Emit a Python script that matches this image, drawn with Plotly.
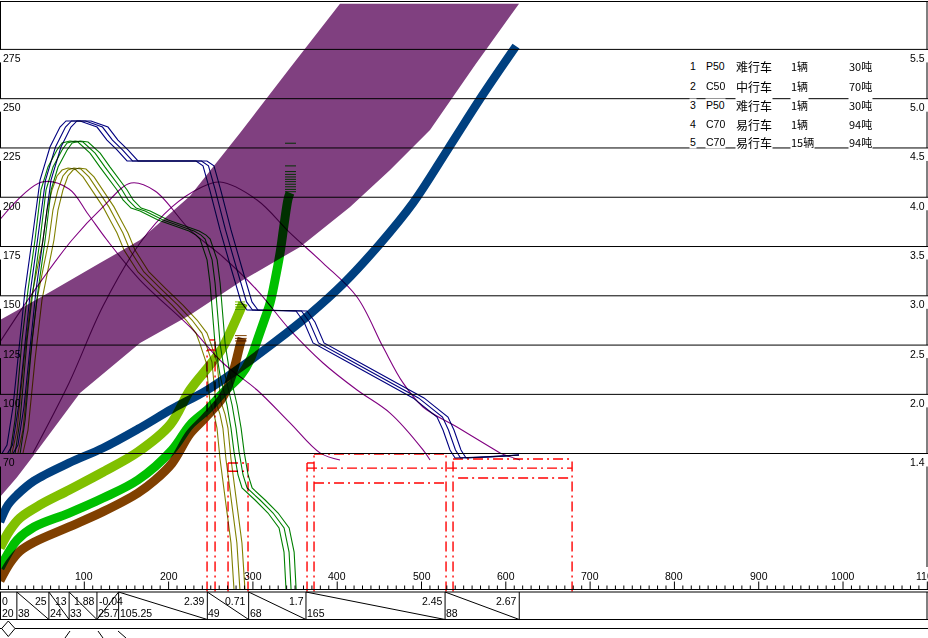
import numpy as np
import plotly.graph_objects as go

# ---------------- values ----------------
GRID_SPEEDS = [70, 100, 125, 150, 175, 200, 225, 250, 275]   # left axis (km/h)
RIGHT_RATIO = 50                                               # right axis = speed / 50
X_TICKS = [100, 200, 300, 400, 500, 600, 700, 800, 900, 1000, 1100]
X_MINOR = 10

GRADIENTS = [0, 25, 13, 1.88, -0.04, 2.39, 0.71, 1.7, 2.45, 2.67]
SEG_LENGTHS = [20, 38, 24, 33, 25.7, 105.25, 49, 68, 165, 88]

LEGEND_NO = ["1", "2", "3", "4", "5"]
LEGEND_TYPE = ["P50", "C50", "P50", "C70", "C70"]
LEGEND_CLASS = ["难行车", "中行车", "难行车", "易行车", "易行车"]
LEGEND_COUNT = ["1辆", "1辆", "1辆", "1辆", "15辆"]
LEGEND_WEIGHT = ["30吨", "70吨", "30吨", "94吨", "94吨"]

# purple band
BAND_UP_X = [0, 59.3, 118.6, 166.1, 225.4, 284.7, 344.0, 403.3]
BAND_UP_V = [137.7, 151.9, 166.6, 178.3, 200.6, 232.6, 265.6, 298.2]
BAND_LO_X = [0, 20.2, 40.3, 94.9, 166.1, 225.4, 288.3, 355.9, 415.2, 462.7, 510.1, 563.5, 615.7]
BAND_LO_V = [47.9, 58.0, 69.2, 100.7, 126.1, 140.3, 158.0, 174.8, 195.1, 213.8, 234.1, 267.1, 298.2]

# thick curves
BLUE_X = [0, 9.5, 20.2, 40.3, 81.9, 122.2, 163.7, 204.0, 245.6, 285.9, 326.2, 367.8, 408.1, 449.6, 489.9, 531.5, 571.8, 612.1]
BLUE_V = [35.3, 43.9, 49.0, 56.1, 65.2, 72.8, 82.4, 92.6, 102.2, 113.9, 126.6, 140.8, 156.5, 175.8, 197.1, 224.5, 251.4, 276.7]
LIME_X = [0, 11.9, 23.7, 47.5, 81.9, 122.2, 163.7, 201.7, 225.4, 249.1, 264.5, 281.2, 288.3]
LIME_V = [22.1, 31.2, 37.3, 43.9, 51.5, 60.6, 70.8, 84.5, 102.2, 114.9, 124.0, 139.2, 146.3]
GREEN_X = [0, 11.9, 20.2, 40.3, 81.9, 122.2, 163.7, 204.0, 225.4, 245.6, 264.5, 285.9, 296.6, 306.1, 314.4, 320.3, 326.2, 332.2, 336.9, 341.7, 344.0]
GREEN_V = [11.9, 21.0, 26.1, 32.7, 39.8, 47.4, 56.6, 71.8, 84.5, 92.1, 100.7, 109.8, 117.4, 128.6, 138.7, 146.3, 158.0, 171.7, 185.9, 199.1, 202.2]
BROWN_X = [0, 11.9, 23.7, 40.3, 81.9, 122.2, 163.7, 183.9, 204.0, 225.4, 243.2, 264.5, 276.4, 284.7, 287.1]
BROWN_V = [5.5, 14.5, 20.5, 25.0, 32.8, 40.5, 50.0, 56.5, 65.0, 80.0, 88.0, 98.7, 111.3, 125.0, 128.6]

# end stripes of thick curves
LIME_STRIPE_X = [278.8, 290.6]
LIME_STRIPE_V = [146.9, 145.6, 144.3, 143.1]
BROWN_STRIPE_X = [278.8, 292.6]
BROWN_STRIPE_V = [129.8, 128.4, 127.1]
GREEN_STRIPE_X = [338.1, 351.1]
GREEN_STRIPE_V = [227.4, 215.9, 213.0, 211.6, 210.3, 209.1, 207.9, 206.6, 205.3, 204.0, 202.8]

# thin navy runs
NAVY_V = [70.0, 74.3, 93.6, 127.6, 152.9, 178.3, 208.7, 225.5, 235.6, 238.7, 238.7, 235.6, 229.0, 224.0, 218.4,
          218.4, 215.9, 203.2, 183.4, 164.1, 146.9, 142.8, 142.3, 136.7, 126.1, 117.4, 107.8, 98.2, 88.5, 81.9,
          71.8, 67.7, 68.2, 69.2]
NAVY_1_X = [2.4, 8.3, 15.4, 23.7, 29.7, 38.0, 47.5, 59.3, 71.2, 78.3, 94.9, 115.1, 126.9, 138.8, 150.7, 232.5,
            240.8, 249.1, 261.0, 274.0, 285.9, 293.0, 351.1, 360.6, 371.3, 408.1, 449.6, 489.9, 518.4, 525.5,
            533.8, 539.8, 569.4, 615.7]
NAVY_2_X = [8.9, 14.8, 21.9, 30.2, 36.2, 44.5, 54.0, 65.8, 77.7, 84.8, 101.4, 121.6, 133.4, 145.3, 157.2, 239.0,
            247.3, 255.6, 267.5, 280.5, 292.4, 299.5, 357.6, 367.1, 377.8, 414.6, 456.1, 496.4, 524.9, 532.0,
            540.3, 546.3, 575.9, 615.7]
NAVY_3_X = [15.4, 21.3, 28.4, 36.7, 42.7, 51.0, 60.5, 72.3, 84.2, 91.3, 107.9, 128.1, 139.9, 151.8, 163.7, 245.5,
            253.8, 262.1, 274.0, 287.0, 298.9, 306.0, 364.1, 373.6, 384.3, 421.1, 462.6, 502.9, 531.4, 538.5,
            546.8, 552.8, 582.4, 615.7]

# thin green runs
GTHIN_V = [70.0, 87.0, 127.6, 152.9, 178.3, 203.7, 215.3, 224.0, 227.5, 228.5, 228.0, 222.4, 215.3, 208.7, 203.7,
           198.6, 194.5, 193.0, 188.5, 182.9, 180.8, 178.8, 168.2, 156.5, 137.7, 125.5, 109.8, 94.6, 82.9, 70.8,
           59.1, 52.5, 46.4, 39.8, 32.2, 20.0, 0.8]
GTHIN_1_X = [11.9, 17.8, 26.1, 33.2, 41.5, 48.6, 56.9, 67.6, 73.6, 83.0, 92.5, 106.8, 118.6, 130.5, 138.8, 145.9,
             155.4, 166.1, 187.4, 224.2, 232.5, 237.3, 245.6, 249.1, 252.7, 255.1, 261.0, 269.3, 274.0, 277.6,
             282.3, 287.1, 302.5, 317.9, 331.0, 336.9, 339.3]
GTHIN_2_X = [17.9, 23.8, 32.1, 39.2, 47.5, 54.6, 62.9, 73.6, 79.6, 89.0, 98.5, 112.8, 124.6, 136.5, 144.8, 151.9,
             161.4, 172.1, 193.4, 230.2, 238.5, 243.3, 251.6, 255.1, 258.7, 261.1, 267.0, 275.3, 280.0, 283.6,
             288.3, 293.1, 308.5, 323.9, 337.0, 342.9, 345.3]
GTHIN_3_X = [23.9, 29.8, 38.1, 45.2, 53.5, 60.6, 68.9, 79.6, 85.6, 95.0, 104.5, 118.8, 130.6, 142.5, 150.8, 157.9,
             167.4, 178.1, 199.4, 236.2, 244.5, 249.3, 257.6, 261.1, 264.7, 267.1, 273.0, 281.3, 286.0, 289.6,
             294.3, 299.1, 314.5, 329.9, 343.0, 348.9, 351.3]

# thin olive runs
OLIVE_V = [70.0, 81.9, 117.4, 147.9, 163.1, 178.3, 193.5, 203.7, 210.8, 213.8, 214.8, 214.3, 210.3, 205.2, 200.1,
           195.1, 188.5, 181.9, 173.2, 168.2, 162.1, 153.5, 145.3, 137.7, 131.1, 125.5, 116.4, 105.8, 96.1, 90.0,
           82.9, 67.2, 51.5, 38.3, 24.6, 0.8]
OLIVE_1_X = [14.2, 20.2, 28.5, 36.8, 43.9, 51.0, 55.8, 61.7, 67.6, 73.6, 80.7, 89.0, 98.5, 106.8, 115.1, 122.2,
             130.5, 138.8, 147.1, 154.2, 163.7, 183.9, 204.0, 220.7, 232.5, 237.3, 244.4, 246.8, 249.1, 253.9,
             257.4, 261.0, 265.7, 269.3, 274.0, 277.6]
OLIVE_2_X = [21.2, 27.2, 35.5, 43.8, 50.9, 58.0, 62.8, 68.7, 74.6, 80.6, 87.7, 96.0, 105.5, 113.8, 122.1, 129.2,
             137.5, 145.8, 154.1, 161.2, 170.7, 190.9, 211.0, 227.7, 239.5, 244.3, 251.4, 253.8, 256.1, 260.9,
             264.4, 268.0, 272.7, 276.3, 281.0, 284.6]
OLIVE_3_X = [27.2, 33.2, 41.5, 49.8, 56.9, 64.0, 68.8, 74.7, 80.6, 86.6, 93.7, 102.0, 111.5, 119.8, 128.1, 135.2,
             143.5, 151.8, 160.1, 167.2, 176.7, 196.9, 217.0, 233.7, 245.5, 250.3, 257.4, 259.8, 262.1, 266.9,
             270.4, 274.0, 278.7, 282.3, 287.0, 290.6]

# thin purple curves
PURPLE_A_X = [0, 49.8, 81.9, 104.4, 126.9, 166.1, 225.4, 264.5, 304.9, 344.0, 379.6, 403.3]
PURPLE_A_V = [188.7, 207.7, 204.2, 191.5, 178.3, 158.0, 134.2, 115.9, 102.2, 85.5, 70.3, 66.7]
PURPLE_B_X = [0, 40.3, 85.4, 122.2, 155.4, 183.9, 225.4, 264.5, 304.9, 344.0, 383.2, 423.5, 462.7, 501.8, 510.1]
PURPLE_B_V = [126.6, 152.4, 178.3, 195.1, 207.2, 203.2, 183.4, 169.7, 152.9, 132.7, 115.9, 102.2, 90.5, 71.8, 66.7]
PURPLE_C_X = [39.1, 81.9, 122.2, 166.1, 204.0, 237.3, 261.0, 304.9, 344.0, 383.2, 423.5, 454.4, 478.1, 501.8,
              542.1, 581.3, 593.2, 616.9]
PURPLE_C_V = [70.3, 105.8, 144.8, 176.8, 195.1, 204.7, 207.7, 198.6, 181.9, 166.6, 149.4, 124.0, 105.8, 93.6,
              83.4, 73.3, 70.3, 66.7]

# red dash-dot limit lines: (x0, x1, v0, v1)
RED_SEGMENTS = [
    (245.6, 245.6, 0, 122.5), (255.1, 255.1, 0, 127.6), (245.6, 255.1, 122.5, 122.5), (249.0, 255.1, 127.6, 127.6),
    (270.5, 270.5, 0, 65.2), (294.2, 294.2, 0, 65.2), (270.5, 294.2, 65.2, 65.2), (270.5, 294.2, 61.0, 61.0),
    (364.2, 364.2, 0, 65.2), (372.5, 372.5, 0, 69.7), (364.2, 372.5, 65.2, 65.2),
    (372.5, 529.1, 69.7, 69.7), (364.2, 678.6, 62.6, 62.6), (372.5, 531.5, 55.0, 55.0),
    (529.1, 529.1, 0, 69.7), (537.4, 537.4, 0, 67.2), (537.4, 678.6, 67.2, 67.2), (543.4, 678.6, 57.6, 57.6),
    (678.6, 678.6, 0, 67.2),
]

# ---------------- layout helpers (pixel placement of decorations) ----------------
W, H = 928, 638
X_RANGE = [0, 1100.8]
Y_RANGE = [-23.6, 300.06]


def px2x(px):
    return X_RANGE[0] + px / W * (X_RANGE[1] - X_RANGE[0])


def py2v(py):
    return Y_RANGE[1] - py / H * (Y_RANGE[1] - Y_RANGE[0])


def v2py(v):
    return (Y_RANGE[1] - v) / (Y_RANGE[1] - Y_RANGE[0]) * H


FONT = "Liberation Sans, Arial, sans-serif"
CJK = "Noto Sans CJK SC, Liberation Sans, sans-serif"

fig = go.Figure()


def line_trace(x, y, color, width, shape="linear", dash=None):
    fig.add_trace(go.Scatter(x=x, y=y, mode="lines", hoverinfo="skip", showlegend=False,
                             line=dict(color=color, width=width, shape=shape, dash=dash)))


# purple band
band_x = list(BAND_LO_X) + list(BAND_UP_X[::-1])
band_v = list(BAND_LO_V) + list(BAND_UP_V[::-1])
fig.add_trace(go.Scatter(x=band_x, y=band_v, mode="lines", fill="toself", fillcolor="#804080",
                         line=dict(width=0, color="#804080"), hoverinfo="skip", showlegend=False))

# thin purple
for xs, vs in [(PURPLE_A_X, PURPLE_A_V), (PURPLE_B_X, PURPLE_B_V), (PURPLE_C_X, PURPLE_C_V)]:
    line_trace(xs, vs, "#800080", 1.1, shape="spline")

# thick curves
line_trace(BROWN_X, BROWN_V, "#804000", 9, shape="spline")
line_trace(GREEN_X, GREEN_V, "#00C000", 9, shape="spline")
line_trace(LIME_X, LIME_V, "#80C000", 9.5, shape="spline")
line_trace(BLUE_X, BLUE_V, "#004080", 8.5, shape="spline")


def stripes(xr, vs, color):
    xx, yy = [], []
    for v in vs:
        xx += [xr[0], xr[1], None]
        yy += [v, v, None]
    line_trace(xx, yy, color, 1)


stripes(LIME_STRIPE_X, LIME_STRIPE_V, "#80C000")
stripes(BROWN_STRIPE_X, BROWN_STRIPE_V, "#804000")
stripes(GREEN_STRIPE_X, GREEN_STRIPE_V, "#00C000")

# thin runs
for xs in [NAVY_1_X, NAVY_2_X, NAVY_3_X]:
    line_trace(xs, NAVY_V, "#000080", 1.1)
for xs in [GTHIN_1_X, GTHIN_2_X, GTHIN_3_X]:
    line_trace(xs, GTHIN_V, "#008000", 1.1)
for xs in [OLIVE_1_X, OLIVE_2_X, OLIVE_3_X]:
    line_trace(xs, OLIVE_V, "#808000", 1.1)

# red limit lines
rx, ry = [], []
for x0, x1, v0, v1 in RED_SEGMENTS:
    rx += [x0, x1, None]
    ry += [v0, v1, None]
line_trace(rx, ry, "#FF0000", 1.4, dash="10px,4px,2px,4px")

# ---------------- frame, grid, labels ----------------
shapes = []
annotations = []


def seg(x0, x1, y0, y1, color="black", width=1):
    shapes.append(dict(type="line", xref="x", yref="y", x0=x0, x1=x1, y0=y0, y1=y1,
                       line=dict(color=color, width=width)))


XL, XR = px2x(0.5), px2x(927)
for v in GRID_SPEEDS:
    seg(X_RANGE[0], X_RANGE[1], v, v)
seg(X_RANGE[0], X_RANGE[1], py2v(1.5), py2v(1.5))

grid_py = sorted(v2py(v) for v in GRID_SPEEDS)
# side borders broken by labels
for xb, bottom in [(XL, 589.5), (XR, 567)]:
    seg(xb, xb, py2v(1.5), py2v(grid_py[0]))
    for i, g in enumerate(grid_py):
        nxt = grid_py[i + 1] if i + 1 < len(grid_py) else bottom
        seg(xb, xb, py2v(g + 13), py2v(nxt))

for v in GRID_SPEEDS:
    y = py2v(v2py(v) + 8.5)
    annotations.append(dict(x=px2x(1), y=y, text=str(v), xanchor="left", yanchor="middle",
                            showarrow=False, font=dict(family=FONT, size=10.5, color="black")))
    annotations.append(dict(x=px2x(926.5), y=y, text=f"{v / RIGHT_RATIO:.1f}", xanchor="right",
                            yanchor="middle", showarrow=False,
                            font=dict(family=FONT, size=10.5, color="black")))

# x axis line, ticks and labels
axis_v = py2v(589.5)
seg(X_RANGE[0], X_RANGE[1], axis_v, axis_v)
tx, ty = [], []
for t in np.arange(0, 1101, X_MINOR):
    top = py2v(581.5) if t % 100 == 0 else py2v(585.5)
    tx += [t, t, None]
    ty += [axis_v, top, None]
fig.add_trace(go.Scatter(x=tx, y=ty, mode="lines", line=dict(color="black", width=1),
                         hoverinfo="skip", showlegend=False))
for t in X_TICKS:
    annotations.append(dict(x=t, y=py2v(575.5), text=str(t), xanchor="center", yanchor="middle",
                            showarrow=False, font=dict(family=FONT, size=10.5, color="black")))

# gradient table
t_top, t_bot, t_low = py2v(592), py2v(619.5), py2v(628.5)
seg(X_RANGE[0], X_RANGE[1], t_top, t_top)
seg(X_RANGE[0], X_RANGE[1], t_bot, t_bot)
seg(X_RANGE[0], X_RANGE[1], t_low, t_low)
bounds = np.concatenate([[0], np.cumsum(SEG_LENGTHS)])
for b in list(bounds[1:]) + [XL, XR]:
    seg(b, b, t_top, t_bot)
for i, g in enumerate(GRADIENTS):
    x0, x1 = bounds[i], bounds[i + 1]
    if g > 0:
        seg(x0, x1, t_top, t_bot)
    elif g < 0:
        seg(x0, x1, t_bot, t_top)
    if g > 0:
        annotations.append(dict(x=x1 - px2x(0.3), y=py2v(600.5), text=f"{g:g}", xanchor="right",
                                yanchor="middle", showarrow=False,
                                font=dict(family=FONT, size=10.5, color="black")))
    else:
        annotations.append(dict(x=x0 + px2x(0.3), y=py2v(600.5), text=f"{g:g}", xanchor="left",
                                yanchor="middle", showarrow=False,
                                font=dict(family=FONT, size=10.5, color="black")))
    annotations.append(dict(x=max(x0 - px2x(1.0), px2x(0.2)), y=py2v(613), text=f"{SEG_LENGTHS[i]:g}",
                            xanchor="left", yanchor="middle", showarrow=False,
                            font=dict(family=FONT, size=10.5, color="black")))

# marks below the table
dx0, dx1, dx2 = px2x(1.7), px2x(8.3), px2x(15)
shapes.append(dict(type="path", xref="x", yref="y",
                   path=f"M {dx0},{py2v(628.5)} L {dx1},{py2v(621)} L {dx2},{py2v(628.5)} "
                        f"L {dx1},{py2v(636.5)} Z",
                   fillcolor="white", line=dict(color="black", width=1)))
for (a, b), (c, d) in [((65, 638), (70, 631)), ((98, 631), (103, 638)), ((118, 631), (126, 638))]:
    seg(px2x(a), px2x(c), py2v(b), py2v(d))

# legend text block
leg_cols = [(689, LEGEND_NO, FONT, 10.5), (705, LEGEND_TYPE, FONT, 10.5), (735, LEGEND_CLASS, CJK, 12),
            (790, LEGEND_COUNT, CJK, 11), (848, LEGEND_WEIGHT, CJK, 11)]
row_py = [66, 86, 105, 124, 142]
for px, texts, fam, size in leg_cols:
    for r, txt in enumerate(texts):
        annotations.append(dict(x=px2x(px), y=py2v(row_py[r]), text=txt, xanchor="left", yanchor="middle",
                                showarrow=False, bgcolor="white", borderpad=0,
                                font=dict(family=fam, size=size, color="black")))

fig.update_layout(
    width=W, height=H, margin=dict(l=0, r=0, t=0, b=0),
    paper_bgcolor="white", plot_bgcolor="white",
    xaxis=dict(range=X_RANGE, visible=False, fixedrange=True),
    yaxis=dict(range=Y_RANGE, visible=False, fixedrange=True),
    shapes=shapes, annotations=annotations, showlegend=False, hovermode=False,
)

post_js = """
var gd = document.getElementById('{plot_id}');
var ts = gd.querySelectorAll('.scatterlayer .trace');
for (var i = 0; i < ts.length; i++) { ts[i].style.mixBlendMode = 'multiply'; }
"""
fig.write_html("out.html", config={"displayModeBar": False}, post_script=post_js)
